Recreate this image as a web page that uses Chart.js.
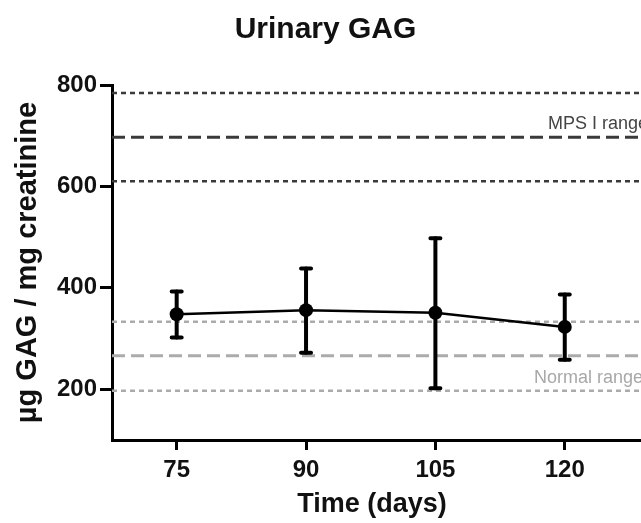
<!DOCTYPE html>
<html>
<head>
<meta charset="utf-8">
<script src="https://cdn.jsdelivr.net/npm/chart.js@4/dist/chart.umd.min.js"></script>
<style>
  html, body { margin: 0; padding: 0; background: #fff; overflow: hidden; }
  #wrap { width: 740px; height: 523px; }
</style>
</head>
<body>
<div id="wrap"><canvas id="c" width="740" height="523"></canvas></div>
<script>
// ---- data ----
const days = [75, 90, 105, 120];
const meanGAG = [348, 356, 351, 323];
const upperGAG = [393, 438, 498, 387];
const lowerGAG = [302, 272, 202, 258];

const mpsRangeLines = [610, 697, 784];     // low, mean, high (MPS I range)
const normalRangeLines = [197, 266, 333];  // low, mean, high (Normal range)

const xTickValues = [75, 90, 105, 120];
const yTickValues = [200, 400, 600, 800];

const X_MIN = 67.5, X_MAX = 130;
const Y_MIN = 100, Y_MAX = 800;

const FONT = "'Liberation Sans', Arial, Helvetica, sans-serif";

function refLine(v, dark, dashed) {
  return {
    type: 'line',
    data: [{x: X_MIN, y: v}, {x: X_MAX, y: v}],
    borderColor: dark ? '#3a3a3a' : '#ababab',
    borderWidth: dashed ? 3 : 2.5,
    borderDash: dashed ? [13, 6] : [5, 4],
    pointRadius: 0,
    fill: false,
    order: 2
  };
}

const refDatasets = [
  refLine(mpsRangeLines[0], true, false),
  refLine(mpsRangeLines[1], true, true),
  refLine(mpsRangeLines[2], true, false),
  refLine(normalRangeLines[0], false, false),
  refLine(normalRangeLines[1], false, true),
  refLine(normalRangeLines[2], false, false)
];

const errorBars = {
  id: 'errorBars',
  afterDatasetsDraw(chart) {
    const {ctx, scales: {x, y}} = chart;
    ctx.save();
    ctx.strokeStyle = '#000';
    ctx.lineCap = 'round';
    days.forEach((d, i) => {
      const px = x.getPixelForValue(d);
      const yh = y.getPixelForValue(upperGAG[i]);
      const yl = y.getPixelForValue(lowerGAG[i]);
      ctx.lineWidth = 4;
      ctx.beginPath();
      ctx.moveTo(px, yh); ctx.lineTo(px, yl);
      ctx.stroke();
      ctx.lineWidth = 4;
      ctx.beginPath();
      ctx.moveTo(px - 5, yh); ctx.lineTo(px + 5, yh);
      ctx.moveTo(px - 5, yl); ctx.lineTo(px + 5, yl);
      ctx.stroke();
    });
    ctx.restore();
  }
};

const rangeLabels = {
  id: 'rangeLabels',
  afterDatasetsDraw(chart) {
    const {ctx, chartArea, scales: {y}} = chart;
    ctx.save();
    ctx.font = '18px ' + FONT;
    ctx.textAlign = 'right';
    ctx.textBaseline = 'alphabetic';
    ctx.fillStyle = '#444';
    ctx.fillText('MPS I range', chartArea.right - 3, y.getPixelForValue(mpsRangeLines[1]) - 8);
    ctx.fillStyle = '#a8a8a8';
    ctx.fillText('Normal range', chartArea.right - 8, y.getPixelForValue(normalRangeLines[1]) + 27);
    ctx.restore();
  }
};

const xAxisTitle = {
  id: 'xAxisTitle',
  afterDraw(chart) {
    const {ctx} = chart;
    ctx.save();
    ctx.font = 'bold 27px ' + FONT;
    ctx.fillStyle = '#111';
    ctx.textAlign = 'center';
    ctx.textBaseline = 'middle';
    ctx.fillText('Time (days)', 372, 505);
    ctx.restore();
  }
};

new Chart(document.getElementById('c'), {
  type: 'line',
  data: {
    datasets: [
      ...refDatasets,
      {
        type: 'line',
        label: 'Urinary GAG',
        data: days.map((d, i) => ({x: d, y: meanGAG[i]})),
        borderColor: '#000',
        backgroundColor: '#000',
        borderWidth: 2.5,
        pointRadius: 7,
        pointBackgroundColor: '#000',
        pointBorderWidth: 0,
        fill: false,
        order: 1
      }
    ]
  },
  options: {
    responsive: false,
    animation: false,
    devicePixelRatio: 1,
    layout: { padding: { left: 0, right: 89, top: 0, bottom: 0 } },
    plugins: {
      legend: { display: false },
      tooltip: { enabled: false },
      title: {
        display: true,
        text: 'Urinary GAG',
        color: '#111',
        font: { family: FONT, size: 30, weight: 'bold' },
        padding: { top: 12, bottom: 37 }
      }
    },
    scales: {
      x: {
        type: 'linear',
        min: X_MIN, max: X_MAX,
        afterBuildTicks(scale) { scale.ticks = xTickValues.map(v => ({value: v})); },
        afterFit(scale) { scale.height = 83; },
        border: { display: true, color: '#000', width: 3 },
        grid: { drawOnChartArea: false, drawTicks: true, tickLength: 10, tickWidth: 3, tickColor: '#000' },
        ticks: { color: '#111', font: { family: FONT, size: 24, weight: 'bold' }, padding: 6, maxRotation: 0 },
        title: { display: false }
      },
      y: {
        type: 'linear',
        min: Y_MIN, max: Y_MAX,
        afterBuildTicks(scale) { scale.ticks = yTickValues.map(v => ({value: v})); },
        afterFit(scale) { scale.width = 112; },
        border: { display: true, color: '#000', width: 3 },
        grid: { drawOnChartArea: false, drawTicks: true, tickLength: 12, tickWidth: 3, tickColor: '#000' },
        ticks: { color: '#111', font: { family: FONT, size: 24, weight: 'bold' }, padding: 3 },
        title: {
          display: true,
          text: 'µg GAG / mg creatinine',
          color: '#111',
          font: { family: FONT, size: 29, weight: 'bold' },
          padding: { top: 11, bottom: 0 }
        }
      }
    }
  },
  plugins: [errorBars, rangeLabels, xAxisTitle]
});
</script>
</body>
</html>
